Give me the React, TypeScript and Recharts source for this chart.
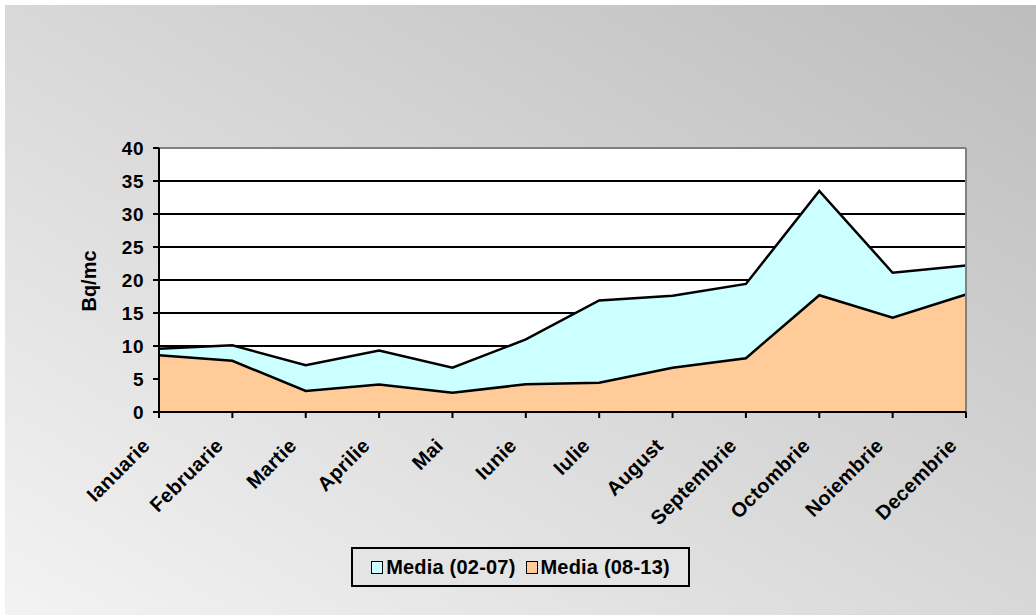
import { AreaChart, Area, XAxis, YAxis, CartesianGrid, ReferenceLine } from 'recharts';

const months = [
  'Ianuarie', 'Februarie', 'Martie', 'Aprilie', 'Mai', 'Iunie',
  'Iulie', 'August', 'Septembrie', 'Octombrie', 'Noiembrie', 'Decembrie',
];
const media0207 = [9.6, 10.1, 7.1, 9.3, 6.7, 11.0, 16.9, 17.6, 19.4, 33.5, 21.1, 22.2];
const media0813 = [8.6, 7.75, 3.2, 4.15, 2.9, 4.2, 4.45, 6.7, 8.15, 17.7, 14.3, 17.8];
const yTicks = [0, 5, 10, 15, 20, 25, 30, 35, 40];
const gridValues = [5, 10, 15, 20, 25, 30, 35];

const data = months.map((m, i) => ({ month: m, a: media0207[i], b: media0813[i] }));

const FONT = '"Liberation Sans", Arial, sans-serif';

// rotated month labels, right end hangs just under the tick
const XTick = ({ x, y, payload }: any) => (
  <g transform={`translate(${x - 8},${y + 27})`}>
    <text
      x={0}
      y={0}
      textAnchor="end"
      transform="rotate(-45)"
      fontFamily={FONT}
      fontWeight="bold"
      fontSize={20}
      letterSpacing={0.3}
      fill="#000"
    >
      {payload.value}
    </text>
  </g>
);

const legendItems = [
  { name: 'Media (02-07)', color: '#CCFFFF' },
  { name: 'Media (08-13)', color: '#FFCC99' },
];

export default function App() {
  return (
    <div style={{ position: 'absolute', left: 0, top: 0, width: 1036, height: 615, background: '#fff' }}>
      <div
        style={{
          position: 'absolute',
          left: 5,
          top: 5,
          width: 1031,
          height: 610,
          background: 'linear-gradient(to top right, #f3f3f3, #bdbdbd)',
        }}
      />
      <div style={{ position: 'absolute', left: 0, top: 0 }}>
        <AreaChart width={1036} height={615} data={data} margin={{ top: 148, right: 70, bottom: 0, left: 0 }}>
          <CartesianGrid
            vertical={false}
            horizontalValues={gridValues}
            stroke="#000"
            strokeWidth={2}
            fill="#fff"
            fillOpacity={1}
          />
          <XAxis
            dataKey="month"
            interval={0}
            height={203}
            axisLine={{ stroke: '#000', strokeWidth: 2 }}
            tickLine={{ stroke: '#000', strokeWidth: 2 }}
            tickSize={6}
            tick={<XTick />}
          />
          <YAxis
            width={159}
            domain={[0, 40]}
            ticks={yTicks}
            interval={0}
            axisLine={{ stroke: '#000', strokeWidth: 2 }}
            tickLine={{ stroke: '#000', strokeWidth: 2 }}
            tickSize={6}
            tickMargin={9}
            tick={{ fill: '#000', fontFamily: FONT, fontWeight: 'bold', fontSize: 19, letterSpacing: 0.5 }}
            label={{
              content: () => (
                <text
                  x={96}
                  y={281}
                  transform="rotate(-90 96 281)"
                  textAnchor="middle"
                  fontFamily={FONT}
                  fontWeight="bold"
                  fontSize={20}
                  fill="#000"
                >
                  Bq/mc
                </text>
              ),
            }}
          />
          <Area
            type="linear"
            dataKey="a"
            name="Media (02-07)"
            stroke="#000"
            strokeWidth={2.5}
            fill="#CCFFFF"
            fillOpacity={1}
            dot={false}
            activeDot={false}
            isAnimationActive={false}
          />
          <Area
            type="linear"
            dataKey="b"
            name="Media (08-13)"
            stroke="#000"
            strokeWidth={2.5}
            fill="#FFCC99"
            fillOpacity={1}
            dot={false}
            activeDot={false}
            isAnimationActive={false}
          />
          <ReferenceLine y={40} stroke="#808080" strokeWidth={2} />
          <ReferenceLine x="Decembrie" stroke="#808080" strokeWidth={2} />
        </AreaChart>
      </div>
      <div
        style={{
          position: 'absolute',
          left: 351,
          top: 547,
          width: 339,
          height: 40,
          boxSizing: 'border-box',
          border: '2px solid #000',
          background: '#e4e4e4',
          display: 'flex',
          alignItems: 'center',
          justifyContent: 'center',
          gap: 10,
          fontFamily: FONT,
          fontWeight: 'bold',
          fontSize: 20,
          letterSpacing: 0.2,
        }}
      >
        {legendItems.map((it) => (
          <div key={it.name} style={{ display: 'flex', alignItems: 'center' }}>
            <span
              style={{
                display: 'inline-block',
                width: 10,
                height: 11,
                border: '1.5px solid #000',
                background: it.color,
                marginRight: 3,
              }}
            />
            <span>{it.name}</span>
          </div>
        ))}
      </div>
    </div>
  );
}
